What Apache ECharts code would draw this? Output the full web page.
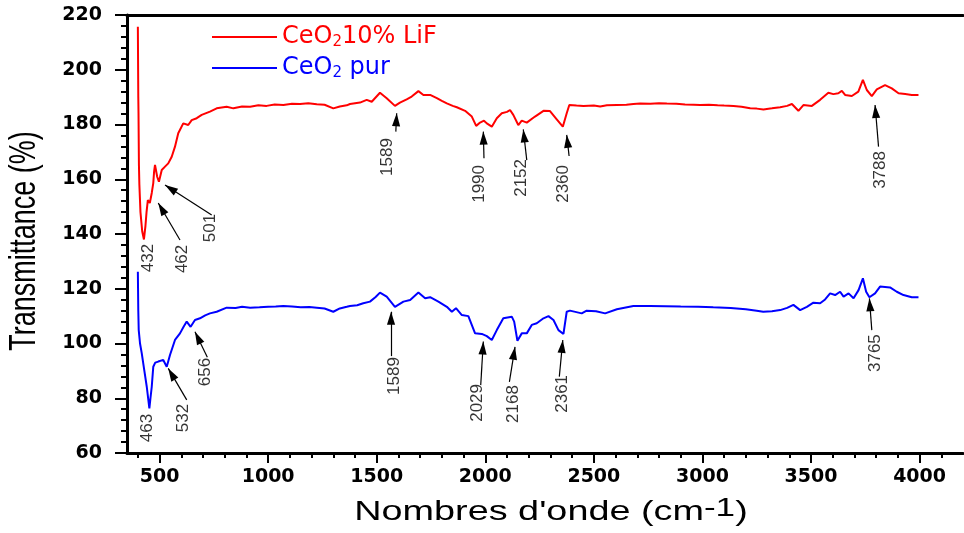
<!DOCTYPE html>
<html>
<head>
<meta charset="utf-8">
<script src="https://cdn.jsdelivr.net/npm/echarts@6.0.0/dist/echarts.min.js"></script>
<style>
html,body{margin:0;padding:0;background:#fff;}
#chart{width:964px;height:533px;}
</style>
</head>
<body>
<div id="chart"></div>
<script>
// ---------- data ----------
const wavenumberRed = [400,402,403,405,407,412,420,428,435,440,446,455,464,471,475,479,489,497,510,525,540,556,571,586,609,632,648,671,694,732,763,809,840,880,917,955,993,1030,1070,1110,1147,1185,1224,1260,1300,1330,1362,1377,1423,1454,1477,1515,1546,1584,1607,1638,1661,1692,1715,1746,1777,1800,1823,1850,1869,1907,1938,1958,1976,1994,2007,2030,2053,2076,2100,2114,2129,2152,2168,2191,2229,2268,2298,2329,2357,2375,2387,2420,2452,2500,2529,2560,2606,2650,2682,2713,2760,2800,2836,2880,2920,2960,2989,3030,3070,3100,3143,3180,3220,3250,3281,3320,3358,3390,3412,3442,3465,3504,3542,3580,3603,3626,3642,3657,3688,3718,3739,3757,3780,3803,3841,3872,3903,3934,3964,3995];
const transmittanceRed = [215.7,190,184,165,158,148,141,138,143,148,152.4,151.3,155,158.6,163,165.2,160.9,159.1,163.4,164.6,165.8,168.2,171.9,176.8,180.4,179.8,181.6,182.3,183.5,184.7,185.9,186.5,185.9,186.6,186.5,187,186.8,187.3,187.1,187.6,187.5,187.8,187.4,187.2,185.9,186.6,187,187.5,188,189,188.3,191.6,189.6,186.8,188,189.2,190.2,192.2,190.8,190.8,189.6,188.6,187.7,186.8,186.3,185,182.9,179.5,180.7,181.4,180.4,179.2,182.3,184.1,184.6,185.3,183.5,179.8,181.4,180.7,182.9,185,184.9,181.9,179.2,184.1,187.1,186.9,186.8,186.9,186.6,187,187.1,187.2,187.5,187.7,187.6,187.8,187.7,187.6,187.3,187.2,187.1,187.2,187.0,186.9,186.8,186.5,185.9,185.8,185.5,185.9,186.3,186.8,187.5,185,187.1,186.8,189,191.6,191.1,191.4,192.3,190.8,190.4,192,196.3,192.6,190.4,192.8,194.4,193.2,191.4,191.1,190.8,190.8];

const wavenumberBlue = [400,402,404,410,418,430,441,453,458,464,471,480,494,517,533,548,571,594,610,625,643,663,686,710,732,763,809,850,880,917,960,1000,1035,1070,1110,1150,1190,1224,1260,1300,1330,1362,1377,1410,1438,1469,1495,1515,1546,1584,1623,1654,1692,1723,1746,1784,1823,1846,1865,1892,1922,1953,1984,2007,2030,2053,2083,2122,2133,2148,2168,2191,2214,2237,2268,2291,2314,2337,2360,2375,2390,2444,2467,2510,2552,2606,2682,2759,2830,2900,2980,3050,3130,3200,3250,3280,3320,3358,3390,3419,3450,3481,3511,3542,3565,3588,3611,3634,3650,3673,3696,3719,3739,3754,3769,3795,3818,3864,3895,3926,3964,3995];
const transmittanceBlue = [126.2,112,104.9,100,96.4,90,84.2,76.3,80,84.2,91.5,93,93.4,94,91.5,95.8,101.3,103.7,106,108,106.1,108.6,109.2,110.3,111,111.6,113.1,113,113.4,113.1,113.2,113.4,113.5,113.7,113.5,113.2,113.3,113.1,112.8,111.6,112.8,113.4,113.7,114,114.7,115.3,117,118.6,117.1,113.4,115.3,115.9,118.6,116.5,116.9,115.3,113.4,111.6,112.9,110.4,110,103.7,103.5,102.7,101.3,104.9,109.2,109.8,108,101,103.7,103.7,106.8,107.4,109.2,110,108.6,104.9,103.5,111.6,112,111,112,111.8,111,112.5,113.7,113.7,113.6,113.5,113.4,113.2,113,112.5,112,111.6,111.8,112.2,113,114.1,112.2,113.4,114.9,114.7,116.1,118.3,117.7,118.9,117.1,118.3,116.5,119.5,123.8,118.9,116.9,118.3,120.8,120.5,118.9,117.7,116.9,116.9];

// peak annotations: label text, label centre (x, y), arrow start and arrow tip
const redPeakLabels = ['432','462','501','1589','1990','2152','2360','3788'];
const redLabelX = [447,603,732,1548,1971,2167,2358,3818];
const redLabelY = [131.2,130.9,142.2,168.1,158.3,160.5,158.3,163.4];
const redArrowFrom = [null,[594,137.8],[740,146.9],[1588,177.4],[1994,167.7],[2191,167],[2386,168.5],[3811,171.9]];
const redArrowTo   = [null,[494,151.3],[525,157.9],[1592,184.1],[1991,177.4],[2175,178.2],[2375,176.2],[3795,187.1]];

const bluePeakLabels = ['463','532','656','1589','2029','2168','2361','3765'];
const blueLabelX = [444,608,709,1580,1962,2128,2354,3795];
const blueLabelY = [69.1,72.8,89.6,88.1,78.3,77.9,81.6,96.5];
const blueArrowFrom = [null,[625,79.4],[720,95],[1566,95.4],[1979,84.8],[2111,86],[2341,87.9],[3780,104.9]];
const blueArrowTo   = [null,[540,90.9],[663,104.3],[1566,111.6],[1991,100.7],[2137,98.8],[2357,101.3],[3769,116.5]];

const xMajorTicks = [500,1000,1500,2000,2500,3000,3500,4000];
const xMinorTicks = [400,600,700,800,900,1100,1200,1300,1400,1600,1700,1800,1900,2100,2200,2300,2400,2600,2700,2800,2900,3100,3200,3300,3400,3600,3700,3800,3900,4100];

const seriesNames = ['CeO2 10% LiF', 'CeO2 pur'];
const xTitle = "Nombres d'onde (cm";
const xTitleSup = '-1';
const yTitle = 'Transmittance (%)';

// ---------- build ----------
const zip = (xs, ys) => xs.map((x, i) => [x, ys[i]]);
const ARROW = 'path://M5,0 L10,16 L0,16 Z';
function arrows(from, to) {
  const out = [];
  from.forEach((f, i) => {
    if (!f) return;
    out.push([{coord: f, symbol: 'none'}, {coord: to[i], symbol: ARROW, symbolSize: 13, symbolKeepAspect: true, symbolOffset: [0, 6.5]}]);
  });
  return out;
}

const annData = [];
redPeakLabels.forEach((t, i) => annData.push([redLabelX[i], redLabelY[i], t]));
bluePeakLabels.forEach((t, i) => annData.push([blueLabelX[i], blueLabelY[i], t]));

const chart = echarts.init(document.getElementById('chart'), null, {renderer: 'canvas'});
const black = '#000';
chart.setOption({
  animation: false,
  backgroundColor: '#fff',
  grid: {left: 127, top: 15, right: 1, bottom: 80, containLabel: false},
  legend: {
    data: seriesNames,
    orient: 'vertical',
    left: 207, top: 20,
    icon: 'rect',
    itemWidth: 65, itemHeight: 2, itemGap: 6,
    textStyle: {
      fontFamily: 'DejaVu Sans', fontSize: 24,
      rich: {
        r: {color: '#ff0000', fontFamily: 'DejaVu Sans', fontSize: 24, lineHeight: 26},
        rs: {color: '#ff0000', fontFamily: 'DejaVu Sans', fontSize: 15, lineHeight: 26, verticalAlign: 'bottom'},
        b: {color: '#0000ff', fontFamily: 'DejaVu Sans', fontSize: 24, lineHeight: 26},
        bs: {color: '#0000ff', fontFamily: 'DejaVu Sans', fontSize: 15, lineHeight: 26, verticalAlign: 'bottom'}
      }
    },
    formatter: n => n === seriesNames[0] ? '{r|CeO}{rs|2}{r|10% LiF}' : '{b|CeO}{bs|2}{b| pur}'
  },
  xAxis: [
    {
      type: 'value', min: 350, max: 4200, position: 'bottom',
      axisLine: {show: true, onZero: false, lineStyle: {color: black, width: 3}},
      axisTick: {show: true, customValues: xMajorTicks, length: 10, lineStyle: {color: black, width: 2}},
      axisLabel: {customValues: xMajorTicks, formatter: v => String(v), margin: 15, color: black, fontFamily: 'DejaVu Sans', fontWeight: 'bold', fontSize: 19},
      splitLine: {show: false}
    },
    {
      type: 'value', min: 350, max: 4200, position: 'bottom',
      axisLine: {show: false, onZero: false},
      axisTick: {show: true, customValues: xMinorTicks, length: 5, lineStyle: {color: black, width: 2}},
      axisLabel: {show: false},
      splitLine: {show: false}
    },
    {
      type: 'value', min: 350, max: 4200, position: 'top',
      axisLine: {show: true, onZero: false, lineStyle: {color: black, width: 3}},
      axisTick: {show: false}, axisLabel: {show: false}, splitLine: {show: false}
    }
  ],
  yAxis: {
    type: 'value', min: 60, max: 220, interval: 20,
    axisLine: {show: true, lineStyle: {color: black, width: 3}},
    axisTick: {show: true, length: 12, lineStyle: {color: black, width: 2}},
    minorTick: {show: true, splitNumber: 5, length: 6, lineStyle: {color: black, width: 2}},
    axisLabel: {margin: 25, color: black, fontFamily: 'DejaVu Sans', fontWeight: 'bold', fontSize: 19},
    splitLine: {show: false}
  },
  graphic: [
    {
      type: 'text', x: 25, y: 241, rotation: Math.PI / 2, scaleY: 1.4,
      style: {text: yTitle, fontFamily: 'Liberation Sans', fontSize: 27, fill: black, align: 'center', verticalAlign: 'middle'}
    },
    {
      type: 'text', x: 551, y: 511, scaleX: 1.35,
      style: {
        text: '{a|' + xTitle + '}{s|' + xTitleSup + '}{a|)}',
        align: 'center', verticalAlign: 'middle',
        rich: {
          a: {fontFamily: 'Liberation Sans', fontSize: 28, lineHeight: 30, verticalAlign: 'bottom', fill: black},
          s: {fontFamily: 'Liberation Sans', fontSize: 26, lineHeight: 12, verticalAlign: 'top', fill: black}
        }
      }
    }
  ],
  series: [
    {
      name: seriesNames[0], type: 'line', xAxisIndex: 0, data: zip(wavenumberRed, transmittanceRed),
      symbol: 'none', lineStyle: {color: '#ff0000', width: 2}, itemStyle: {color: '#ff0000'},
      markLine: {silent: true, symbol: ['none', ARROW], label: {show: false}, lineStyle: {color: black, width: 1.2, type: 'solid'}, data: arrows(redArrowFrom, redArrowTo)}
    },
    {
      name: seriesNames[1], type: 'line', xAxisIndex: 0, data: zip(wavenumberBlue, transmittanceBlue),
      symbol: 'none', lineStyle: {color: '#0000ff', width: 2}, itemStyle: {color: '#0000ff'},
      markLine: {silent: true, symbol: ['none', ARROW], label: {show: false}, lineStyle: {color: black, width: 1.2, type: 'solid'}, data: arrows(blueArrowFrom, blueArrowTo)}
    },
    {
      name: 'peaks', type: 'scatter', xAxisIndex: 0, data: annData, symbolSize: 1,
      itemStyle: {color: 'rgba(0,0,0,0)'}, silent: true,
      label: {show: true, position: 'inside', rotate: 90, formatter: p => p.value[2], color: black, fontFamily: 'Liberation Sans', fontSize: 17}
    }
  ]
});
</script>
</body>
</html>
